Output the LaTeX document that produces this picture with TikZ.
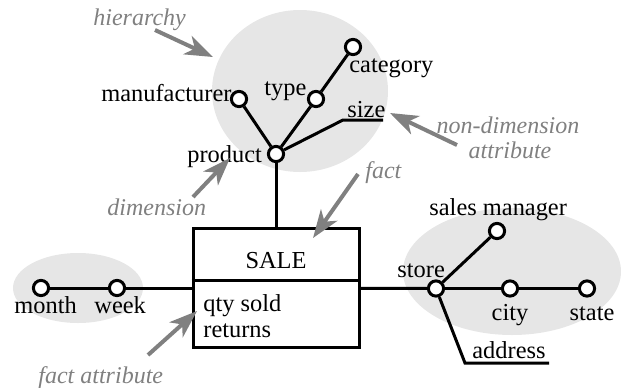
\documentclass[tikz,border=0pt]{standalone}
\usepackage{fontspec}
\setmainfont{Liberation Serif}
\usetikzlibrary{arrows.meta}
\definecolor{ShadeGray}{HTML}{E6E6E6}
\definecolor{NoteGray}{HTML}{808080}

\begin{document}
\begin{tikzpicture}[
    x=0.5pt, y=-0.5pt,
    font=\fontsize{12.2}{14}\selectfont,
    every node/.style={inner sep=0pt},
    attr/.style={circle, draw, fill=white, line width=1.5pt, minimum size=7.6pt},
    link/.style={line width=1.5pt},
    note/.style={text=NoteGray, font=\fontsize{12}{14}\selectfont\itshape},
    pointer/.style={draw=NoteGray, line width=2pt, -{Stealth[length=14pt,width=10pt,inset=4pt]}}
 ]
\useasboundingbox (0,0) rectangle (621,387);

% shaded hierarchies
\fill[ShadeGray] (300,91) ellipse [x radius=44pt, y radius=40.5pt];
\fill[ShadeGray] (78,288) ellipse [x radius=32.5pt, y radius=17.5pt];
\fill[ShadeGray] (512,271.5) ellipse [x radius=54.5pt, y radius=31.75pt];

% fact
\node[draw, line width=1.5pt, minimum width=83pt, minimum height=59.5pt] (sale) at (276,288) {};
\draw[link] ([yshift=4pt]sale.west) -- ([yshift=4pt]sale.east);
\node[anchor=base] (saleName) at (276,268) {SALE};
\node[anchor=base west] (qtySold) at (203,311) {qty sold};
\node[anchor=base west] (returns) at (203,337) {returns};

% product hierarchy
\node[attr] (product) at (276,154) {};
\node[attr] (manufacturer) at (239,99) {};
\node[attr] (type) at (316,99) {};
\node[attr] (category) at (353,47) {};
\coordinate (sizeStart) at (343,120);
\coordinate (sizeEnd) at (383,120);
\node[anchor=base west] (productText) at (187,162) {product};
\node[anchor=base west] (manufacturerText) at (101,101) {manufacturer};
\node[anchor=base west] (typeText) at (264,95) {type};
\node[anchor=base west] (categoryText) at (349,72) {category};
\node[anchor=base west] (sizeText) at (347,117) {size};

% time hierarchy
\node[attr] (month) at (41,288) {};
\node[attr] (week) at (117,288) {};
\node[anchor=base west] (monthText) at (14,313) {month};
\node[anchor=base west] (weekText) at (94,313) {week};

% store hierarchy
\node[attr] (store) at (436,288.5) {};
\node[attr] (city) at (510,288.5) {};
\node[attr] (state) at (587,288.5) {};
\node[attr] (salesManager) at (497,231) {};
\coordinate (addressStart) at (465,363);
\coordinate (addressEnd) at (549,363);
\node[anchor=base west] (storeText) at (397,277) {store};
\node[anchor=base west] (salesManagerText) at (429,215) {sales manager};
\node[anchor=base] (cityText) at (510,320) {city};
\node[anchor=base] (stateText) at (592,320) {state};
\node[anchor=base west] (addressText) at (472,358) {address};

\draw[link] (product) -- (sale);
\draw[link] (product) -- (manufacturer);
\draw[link] (product) -- (type);
\draw[link] (type) -- (category);
\draw[link] (product) -- (sizeStart) -- (sizeEnd);
\draw[link] (month) -- (week);
\draw[link] (week) -- (sale);
\draw[link] (sale) -- (store);
\draw[link] (store) -- (city);
\draw[link] (city) -- (state);
\draw[link] (store) -- (salesManager);
\draw[link] (store) -- (addressStart) -- (addressEnd);

% notes
\node[note, anchor=base west] (hierarchyNote) at (93,25) {hierarchy};
\node[note, anchor=base] (nonDimNote) at (508,133) {non-dimension};
\node[note, anchor=base] (nonDimNoteB) at (510,158) {attribute};
\node[note, anchor=base west] (factNote) at (365,178) {fact};
\node[note, anchor=base west] (dimensionNote) at (107,215) {dimension};
\node[note, anchor=base west] (factAttrNote) at (38,383) {fact attribute};

\coordinate (hierarchyTail) at (155,30);
\coordinate (hierarchyTip) at (213,57);
\coordinate (nonDimTail) at (457,145);
\coordinate (nonDimTip) at (390,113);
\coordinate (factTail) at (358,174);
\coordinate (factTip) at (313,238);
\coordinate (dimensionTail) at (193,197);
\coordinate (dimensionTip) at (230,158);
\coordinate (factAttrTail) at (148,355);
\coordinate (factAttrTip) at (197,311);

\draw[pointer] (hierarchyTail) -- (hierarchyTip);
\draw[pointer] (nonDimTail) -- (nonDimTip);
\draw[pointer] (factTail) -- (factTip);
\draw[pointer] (dimensionTail) -- (dimensionTip);
\draw[pointer] (factAttrTail) -- (factAttrTip);

\end{tikzpicture}
\end{document}
